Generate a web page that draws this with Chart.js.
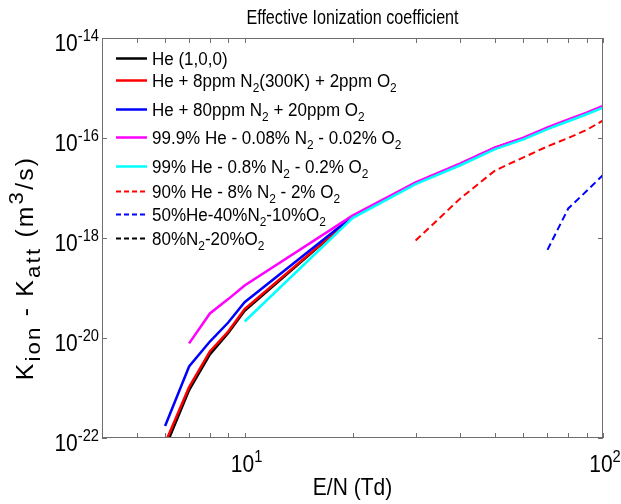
<!DOCTYPE html>
<html>
<head>
<meta charset="utf-8">
<title>Effective Ionization coefficient</title>
<script src="https://cdn.jsdelivr.net/npm/chart.js@4.4.1/dist/chart.umd.min.js"></script>
<style>
  html, body { margin: 0; padding: 0; background: #fff; }
  #wrap { width: 621px; height: 504px; }
</style>
</head>
<body>
<div id="wrap"><canvas id="kChart" width="621" height="504"></canvas></div>
<script>
// E/N grids (Td) used by the different mixtures
const eFull = [6, 7, 8, 9, 10, 20, 30, 40, 50, 60, 70, 80, 90, 100];
const eFrom7 = [7, 8, 9, 10, 20, 30, 40, 50, 60, 70, 80, 90, 100];
const eFrom10 = [10, 20, 30, 40, 50, 60, 70, 80, 90, 100];
const eFrom30 = [30, 40, 50, 60, 70, 80, 90, 100];
const eFrom70 = [70, 80, 90, 100];

// K_ion - K_att (m^3/s)
const kHe = [6.3e-23, 9.1e-22, 4.7e-21, 1.26e-20, 3.5e-20, 2.6e-18, 1.25e-17, 3.0e-17, 6.3e-17, 9.8e-17, 1.56e-16, 2.25e-16, 3.1e-16, 4.2e-16];
const kHe8ppm = [7.9e-23, 1.05e-21, 5.4e-21, 1.35e-20, 3.8e-20, 2.6e-18, 1.25e-17, 3.0e-17, 6.3e-17, 9.8e-17, 1.56e-16, 2.25e-16, 3.1e-16, 4.2e-16];
const kHe80ppm = [1.74e-22, 2.7e-21, 8.5e-21, 2.04e-20, 5.2e-20, 2.7e-18, 1.25e-17, 3.0e-17, 6.3e-17, 9.8e-17, 1.56e-16, 2.25e-16, 3.1e-16, 4.2e-16];
const kMix999 = [7.8e-21, 3.1e-20, 6.0e-20, 1.12e-19, 2.8e-18, 1.3e-17, 3.1e-17, 6.5e-17, 1.02e-16, 1.62e-16, 2.34e-16, 3.2e-16, 4.4e-16];
const kMix99 = [2.14e-20, 2.5e-18, 1.2e-17, 2.85e-17, 6.0e-17, 9.4e-17, 1.5e-16, 2.16e-16, 2.98e-16, 4.05e-16];
const kMix90 = [8.9e-19, 6.2e-18, 2.24e-17, 4.1e-17, 6.8e-17, 1.0e-16, 1.45e-16, 2.24e-16];
const kMix50 = [5.8e-19, 3.9e-18, 8.7e-18, 1.82e-17];
const kAir = []; // 80% N2 - 20% O2 stays negative over this range

const seriesLabels = [
  'He (1,0,0)',
  'He + 8ppm N_2(300K) + 2ppm O_2',
  'He + 80ppm N_2 + 20ppm O_2',
  '99.9% He - 0.08% N_2 - 0.02% O_2',
  '99% He - 0.8% N_2 - 0.2% O_2',
  '90% He - 8% N_2 - 2% O_2',
  '50%He-40%N_2-10%O_2',
  '80%N_2-20%O_2'
];

// axis ticks
const xTickValues = [10, 100];
const xTickLabels = ['10^{1}', '10^{2}'];
const xMinorTicks = [5, 6, 7, 8, 9, 20, 30, 40, 50, 60, 70, 80, 90];
const yTickValues = [1e-22, 1e-20, 1e-18, 1e-16, 1e-14];
const yTickLabels = ['10^{-22}', '10^{-20}', '10^{-18}', '10^{-16}', '10^{-14}'];

const FONT = '"Liberation Sans", Arial, sans-serif';

function pairs(xs, ys) {
  return ys.map((v, i) => ({ x: xs[i], y: v }));
}

// split "N_2" / "10^{-14}" into plain, sub and sup runs
function parseRich(str) {
  const parts = [];
  let buf = '';
  let i = 0;
  const flush = () => {
    if (buf) parts.push({ text: buf, shift: 0 });
    buf = '';
  };
  while (i < str.length) {
    const c = str[i];
    if (c === '_' || c === '^') {
      flush();
      let seg;
      if (str[i + 1] === '{') {
        const end = str.indexOf('}', i);
        seg = str.slice(i + 2, end);
        i = end + 1;
      } else {
        seg = str[i + 1];
        i += 2;
      }
      parts.push({ text: seg, shift: c === '_' ? 1 : -1 });
    } else {
      buf += c;
      i++;
    }
  }
  flush();
  return parts;
}

// opts: align, sx/sy (glyph stretch), sub (script scale), spacing (px per char)
function drawRich(ctx, str, x, y, size, opts) {
  const o = Object.assign({ align: 'left', sx: 1, sy: 1.1, sub: 0.7, spacing: 0 }, opts);
  const parts = parseRich(str);
  ctx.save();
  ctx.letterSpacing = o.spacing + 'px';
  let w = 0;
  parts.forEach((p) => {
    ctx.font = (p.shift ? size * o.sub : size) + 'px ' + FONT;
    w += ctx.measureText(p.text).width;
  });
  let cx = o.align === 'center' ? -w / 2 : o.align === 'right' ? -w : 0;
  ctx.translate(x, y);
  ctx.scale(o.sx, o.sy);
  ctx.textAlign = 'left';
  ctx.textBaseline = 'alphabetic';
  ctx.fillStyle = '#000';
  parts.forEach((p) => {
    const s = p.shift ? size * o.sub : size;
    ctx.font = s + 'px ' + FONT;
    const dy = p.shift === 1 ? size * 0.3 : p.shift === -1 ? -size * 0.45 : 0;
    ctx.fillText(p.text, cx, dy);
    cx += ctx.measureText(p.text).width;
  });
  ctx.restore();
}

// box, inside ticks, labels, title and legend in the old plotting style
const axesFrame = {
  id: 'axesFrame',
  afterDraw(chart) {
    const { ctx, chartArea: a } = chart;
    const xs = chart.scales.x;
    const ys = chart.scales.y;
    ctx.save();
    ctx.strokeStyle = '#6f6f6f';
    ctx.lineWidth = 1;
    ctx.setLineDash([]);
    ctx.strokeRect(a.left + 0.5, a.top + 0.5, a.right - a.left - 1, a.bottom - a.top - 1);

    ctx.beginPath();
    xMinorTicks.concat(xTickValues).forEach((v) => {
      const px = Math.round(xs.getPixelForValue(v)) + 0.5;
      ctx.moveTo(px, a.bottom);
      ctx.lineTo(px, a.bottom - 5);
      ctx.moveTo(px, a.top);
      ctx.lineTo(px, a.top + 5);
    });
    yTickValues.forEach((v) => {
      const py = Math.round(ys.getPixelForValue(v)) + 0.5;
      ctx.moveTo(a.left, py);
      ctx.lineTo(a.left + 5, py);
      ctx.moveTo(a.right, py);
      ctx.lineTo(a.right - 5, py);
    });
    ctx.stroke();

    xTickValues.forEach((v, i) => {
      drawRich(ctx, xTickLabels[i], xs.getPixelForValue(v) + 2, a.bottom + 34, 21, { align: 'center' });
    });
    yTickValues.forEach((v, i) => {
      drawRich(ctx, yTickLabels[i], a.left - 3, ys.getPixelForValue(v) + 13, 21, { align: 'right' });
    });

    drawRich(ctx, 'Effective Ionization coefficient', (a.left + a.right) / 2, 24, 17, { align: 'center', sx: 0.95, sy: 1.2 });
    drawRich(ctx, 'E/N (Td)', (a.left + a.right) / 2, 495, 21, { align: 'center' });

    ctx.save();
    ctx.translate(33, 268);
    ctx.rotate(-Math.PI / 2);
    drawRich(ctx, 'K_{ion} - K_{att} (m^3/s)', 0, 0, 22, { align: 'center', sx: 1.12, sy: 1.05, sub: 0.9, spacing: 2 });
    ctx.restore();

    // legend rows
    const rowY = [58, 80, 109, 137, 166, 191, 214, 238];
    chart.data.datasets.forEach((ds, i) => {
      const yy = rowY[i] + 0.5;
      ctx.beginPath();
      ctx.strokeStyle = ds.borderColor;
      ctx.lineWidth = ds.borderDash.length ? 2 : 2.5;
      ctx.setLineDash(ds.borderDash.length ? [5, 3] : []);
      ctx.moveTo(116, yy);
      ctx.lineTo(147, yy);
      ctx.stroke();
      drawRich(ctx, ds.label, 152, yy + 6, 17, { sy: 1.05 });
    });
    ctx.restore();
  }
};

const series = [
  { e: eFull, k: kHe, color: '#000000', dash: [] },
  { e: eFull, k: kHe8ppm, color: '#ff0000', dash: [] },
  { e: eFull, k: kHe80ppm, color: '#0000ff', dash: [] },
  { e: eFrom7, k: kMix999, color: '#ff00ff', dash: [] },
  { e: eFrom10, k: kMix99, color: '#00ffff', dash: [] },
  { e: eFrom30, k: kMix90, color: '#ff0000', dash: [7, 4] },
  { e: eFrom70, k: kMix50, color: '#0000ff', dash: [7, 4] },
  { e: [], k: kAir, color: '#000000', dash: [7, 4] }
];

new Chart(document.getElementById('kChart'), {
  type: 'line',
  data: {
    datasets: series.map((s, i) => ({
      label: seriesLabels[i],
      data: pairs(s.e, s.k),
      borderColor: s.color,
      backgroundColor: s.color,
      borderDash: s.dash,
      borderWidth: s.dash.length ? 2 : 2.5,
      pointRadius: 0,
      tension: 0,
      fill: false,
      order: series.length - i
    }))
  },
  options: {
    responsive: false,
    animation: false,
    events: [],
    layout: { padding: { left: 0, right: 18, top: 38, bottom: 0 } },
    scales: {
      x: {
        type: 'logarithmic',
        min: 4,
        max: 100,
        grid: { display: false },
        border: { display: false },
        ticks: { display: false },
        afterFit: (scale) => { scale.height = 66; }
      },
      y: {
        type: 'logarithmic',
        min: 1e-22,
        max: 1e-14,
        grid: { display: false },
        border: { display: false },
        ticks: { display: false },
        afterFit: (scale) => { scale.width = 102; }
      }
    },
    plugins: {
      legend: { display: false },
      title: { display: false },
      tooltip: { enabled: false }
    }
  },
  plugins: [axesFrame]
});
</script>
</body>
</html>
